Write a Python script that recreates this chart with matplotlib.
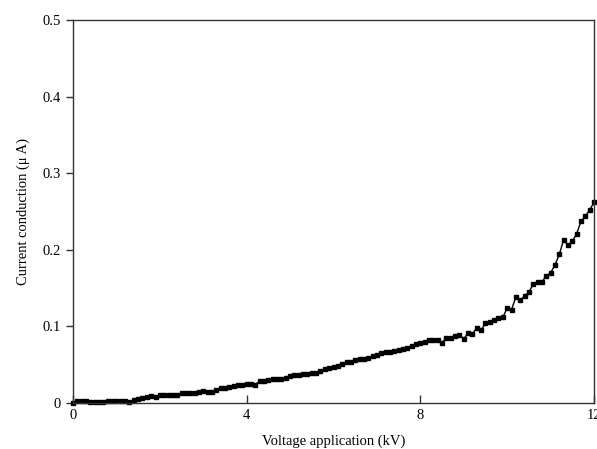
import numpy as np
import matplotlib.pyplot as plt

plt.rcParams['font.family'] = ['Liberation Serif', 'DejaVu Serif']

# voltage (kV) and current (uA)
voltage = [round(0.1 * i, 1) for i in range(121)]
current = [
    0.000, 0.002, 0.003, 0.002, 0.001, 0.001, 0.001, 0.001, 0.002, 0.002,
    0.003, 0.003, 0.003, 0.001, 0.004, 0.005, 0.006, 0.008, 0.009, 0.008,
    0.010, 0.010, 0.010, 0.010, 0.011, 0.013, 0.013, 0.013, 0.013, 0.014,
    0.016, 0.015, 0.014, 0.017, 0.020, 0.020, 0.021, 0.022, 0.023, 0.024,
    0.025, 0.025, 0.024, 0.029, 0.029, 0.030, 0.031, 0.031, 0.032, 0.033,
    0.035, 0.037, 0.037, 0.038, 0.038, 0.039, 0.039, 0.042, 0.045, 0.046,
    0.047, 0.048, 0.051, 0.053, 0.054, 0.056, 0.057, 0.058, 0.059, 0.061,
    0.063, 0.065, 0.066, 0.067, 0.068, 0.069, 0.071, 0.072, 0.074, 0.077,
    0.079, 0.080, 0.082, 0.082, 0.082, 0.079, 0.085, 0.085, 0.087, 0.089,
    0.084, 0.091, 0.090, 0.098, 0.095, 0.104, 0.106, 0.108, 0.111, 0.112,
    0.124, 0.122, 0.138, 0.134, 0.140, 0.145, 0.155, 0.158, 0.158, 0.166,
    0.170, 0.180, 0.194, 0.213, 0.206, 0.211, 0.221, 0.237, 0.244, 0.252,
    0.262,
]
xticks = [0, 4, 8, 12]
yticks = [0, 0.1, 0.2, 0.3, 0.4, 0.5]
ytick_labels = ['0', '0.1', '0.2', '0.3', '0.4', '0.5']

fig = plt.figure(figsize=(5.97, 4.49), dpi=100)
ax = fig.add_axes([0.1223, 0.1024, 0.8727, 0.8531])

ax.plot(voltage, current, color='black', lw=1.0, marker='s', markersize=2.4,
        clip_on=False)

ax.set_xlim(0, 12)
ax.set_ylim(0, 0.5)
ax.set_xticks(xticks)
ax.set_xticklabels([str(t) for t in xticks])
ax.set_yticks(yticks)
ax.set_yticklabels(ytick_labels)

ax.tick_params(axis='x', direction='in', length=6, width=1, colors='#333333',
               labelcolor='black', labelsize=10.5, pad=4)
ax.tick_params(axis='y', direction='out', length=5, width=1, colors='#333333',
               labelcolor='black', labelsize=10.5, pad=4)
for s in ax.spines.values():
    s.set_color('#333333')
    s.set_linewidth(1.0)

ax.set_xlabel('Voltage application (kV)', fontsize=10.5, labelpad=9)
ax.set_ylabel('Current conduction (\u03bc A)', fontsize=10.5, labelpad=9)

fig.savefig('out.png', dpi=100)
